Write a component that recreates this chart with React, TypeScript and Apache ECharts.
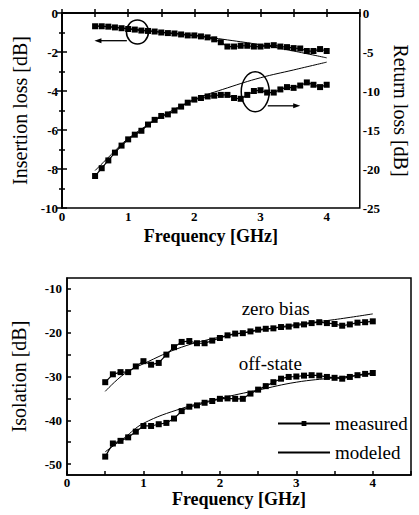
import React, { useEffect, useRef } from "react";
import * as echarts from "echarts";

// ---------- data ----------
const freq = [0.5, 0.6, 0.7, 0.8, 0.9, 1.0, 1.1, 1.2, 1.3, 1.4, 1.5, 1.6, 1.7, 1.8, 1.9, 2.0, 2.1, 2.2, 2.3, 2.4, 2.5, 2.6, 2.7, 2.8, 2.9, 3.0, 3.1, 3.2, 3.3, 3.4, 3.5, 3.6, 3.7, 3.8, 3.9, 4.0];

const insertionMeasured = [-0.68, -0.68, -0.7, -0.74, -0.78, -0.82, -0.85, -0.9, -0.92, -0.95, -1.0, -1.03, -1.05, -1.1, -1.15, -1.15, -1.2, -1.25, -1.35, -1.5, -1.72, -1.72, -1.68, -1.68, -1.72, -1.72, -1.68, -1.65, -1.72, -1.75, -1.8, -1.82, -1.95, -1.95, -1.85, -1.95];
const returnMeasured = [-20.9, -19.9, -18.9, -17.9, -17.0, -16.2, -15.6, -15.1, -14.3, -13.7, -13.2, -13.0, -12.5, -12.0, -11.5, -11.1, -10.9, -10.7, -10.6, -10.5, -10.5, -10.9, -11.0, -10.5, -10.0, -9.9, -10.2, -10.2, -9.8, -9.5, -9.6, -9.3, -8.9, -9.2, -9.5, -9.2];
const zeroBiasMeasured = [-31.3, -29.5, -29.0, -29.0, -27.7, -26.5, -27.3, -26.9, -25.0, -23.3, -22.1, -21.9, -22.4, -22.4, -21.8, -21.2, -20.6, -20.2, -20.1, -19.7, -19.3, -19.1, -19.0, -18.7, -18.6, -18.3, -18.1, -17.8, -17.6, -17.8, -18.0, -18.4, -18.1, -17.7, -17.6, -17.4];
const offStateMeasured = [-48.3, -45.3, -44.7, -43.9, -42.6, -41.3, -41.3, -40.9, -40.6, -39.6, -37.9, -36.9, -36.6, -36.0, -35.6, -35.1, -35.0, -35.1, -35.1, -33.9, -33.0, -32.2, -31.3, -30.5, -30.1, -30.0, -29.8, -29.7, -29.8, -30.1, -30.3, -30.5, -30.1, -29.7, -29.4, -29.2];

const freqModel = [0.5, 0.75, 1, 1.5, 2, 2.5, 3, 3.5, 4];
const insertionModel = [-0.65, -0.72, -0.8, -0.98, -1.15, -1.38, -1.63, -1.95, -2.3];
const returnModel = [-20.2, -18.1, -16.1, -13.3, -11.1, -9.6, -8.3, -7.3, -6.3];
const zeroBiasModel = [-33.4, -29.4, -27.1, -23.3, -21.0, -19.5, -18.1, -17.0, -15.7];
const offStateModel = [-47.2, -44.0, -40.7, -37.3, -35.0, -33.1, -31.3, -30.3, -29.4];

const xLabelValues = [0, 1, 2, 3, 4];
const xTickValues = [0, 0.5, 1, 1.5, 2, 2.5, 3, 3.5, 4, 4.5];
const isoLabelValues = [-50, -40, -30, -20, -10];
const isoTickValues = [-50, -45, -40, -35, -30, -25, -20, -15, -10];

// annotation anchors (data coordinates)
const circleIL = [1.14, -0.97];
const arrowIL = [[0.98, -1.42], [0.49, -1.42]];
const ellipseRL = [2.92, -10.1];
const arrowRL = [[3.11, -11.9], [3.6, -11.9]];
const zeroBiasLabel = [2.73, -14.5];
const offStateLabel = [2.66, -27.0];

const zip = (xs: number[], ys: number[]) => xs.map((x, i) => [x, ys[i]]);

const FONT = "Liberation Serif";
const tickLabel = { fontFamily: FONT, fontSize: 13, fontWeight: "bold" as const, color: "#000" };
const axisName = { fontFamily: FONT, fontSize: 20, color: "#000" };
const axisNameX = { fontFamily: FONT, fontSize: 18, fontWeight: "bold" as const, color: "#000" };
const lineStyleAxis = { color: "#000", width: 1.5 };

export default function App() {
  const ref = useRef<HTMLDivElement>(null);

  useEffect(() => {
    if (!ref.current) return;
    const chart = echarts.init(ref.current, undefined, { renderer: "svg" });

    const measuredStyle = {
      type: "line" as const,
      symbol: "rect",
      symbolSize: 6,
      itemStyle: { color: "#000" },
      lineStyle: { color: "#000", width: 1.2 },
      z: 3,
    };
    const modelStyle = {
      type: "line" as const,
      symbol: "none",
      smooth: 0.4,
      lineStyle: { color: "#000", width: 1 },
      itemStyle: { color: "#000" },
      z: 2,
    };

    const option: any = {
      animation: false,
      backgroundColor: "#fff",
      textStyle: { fontFamily: FONT },
      grid: [
        { left: 62, top: 13, width: 304, height: 195, show: true, borderColor: "#000", borderWidth: 1.5, backgroundColor: "transparent" },
        { left: 67, top: 278, width: 344, height: 197, show: true, borderColor: "#000", borderWidth: 1.5, backgroundColor: "transparent" },
      ],
      xAxis: [
        {
          type: "value", gridIndex: 0, min: 0, max: 4.5,
          name: "Frequency [GHz]", nameLocation: "middle", nameGap: 19, nameTextStyle: axisNameX,
          axisLine: { lineStyle: lineStyleAxis },
          axisTick: { inside: true, length: 4, lineStyle: lineStyleAxis, customValues: xTickValues },
          axisLabel: { ...tickLabel, margin: 2, customValues: xLabelValues },
          splitLine: { show: false },
        },
        {
          type: "value", gridIndex: 1, min: 0, max: 4.5,
          name: "Frequency [GHz]", nameLocation: "middle", nameGap: 15, nameTextStyle: axisNameX,
          axisLine: { lineStyle: lineStyleAxis },
          axisTick: { inside: true, length: 4, lineStyle: lineStyleAxis, customValues: xTickValues },
          axisLabel: { ...tickLabel, margin: 1, customValues: xLabelValues },
          splitLine: { show: false },
        },
        {
          type: "value", gridIndex: 0, min: 0, max: 4.5, position: "top",
          axisLine: { lineStyle: lineStyleAxis },
          axisTick: { inside: true, length: 4, lineStyle: lineStyleAxis, customValues: xTickValues },
          axisLabel: { show: false },
          splitLine: { show: false },
        },
      ],
      yAxis: [
        {
          type: "value", gridIndex: 0, min: -10, max: 0, interval: 2, position: "left",
          name: "Insertion loss [dB]", nameLocation: "middle", nameGap: 29, nameRotate: 90, nameTextStyle: axisName,
          axisLine: { show: true, lineStyle: lineStyleAxis },
          axisTick: { inside: true, length: 5, lineStyle: lineStyleAxis },
          minorTick: { show: true, splitNumber: 2, length: 3, lineStyle: lineStyleAxis },
          axisLabel: { ...tickLabel, margin: 4 },
          splitLine: { show: false },
        },
        {
          type: "value", gridIndex: 0, min: -25, max: 0, interval: 5, position: "right",
          name: "Return loss [dB]", nameLocation: "middle", nameGap: 24, nameRotate: -90, nameTextStyle: axisName,
          axisLine: { show: true, lineStyle: lineStyleAxis },
          axisTick: { inside: true, length: 5, lineStyle: lineStyleAxis },
          minorTick: { show: true, splitNumber: 2, length: 3, lineStyle: lineStyleAxis },
          axisLabel: { ...tickLabel, margin: 3 },
          splitLine: { show: false },
        },
        {
          type: "value", gridIndex: 1, min: -52.5, max: -7.5, position: "left",
          name: "Isolation [dB]", nameLocation: "middle", nameGap: 38, nameRotate: 90, nameTextStyle: axisName,
          axisLine: { show: true, lineStyle: lineStyleAxis },
          axisTick: { inside: true, length: 4, lineStyle: lineStyleAxis, customValues: isoTickValues },
          axisLabel: { ...tickLabel, margin: 5, customValues: isoLabelValues },
          splitLine: { show: false },
        },
      ],
      legend: {
        data: [
          { name: "measured" },
          { name: "modeled", itemStyle: { color: "transparent", borderWidth: 0 } },
        ],
        orient: "vertical",
        left: 272,
        top: 409,
        itemWidth: 52,
        itemHeight: 6,
        itemGap: 10,
        selectedMode: false,
        textStyle: { fontFamily: FONT, fontSize: 19, color: "#000" },
      },
      series: [
        { ...measuredStyle, name: "insertion measured", xAxisIndex: 0, yAxisIndex: 0, data: zip(freq, insertionMeasured) },
        { ...modelStyle, name: "insertion modeled", xAxisIndex: 0, yAxisIndex: 0, data: zip(freqModel, insertionModel) },
        { ...measuredStyle, name: "return measured", xAxisIndex: 0, yAxisIndex: 1, data: zip(freq, returnMeasured) },
        { ...modelStyle, name: "return modeled", xAxisIndex: 0, yAxisIndex: 1, data: zip(freqModel, returnModel) },
        { ...measuredStyle, name: "measured", xAxisIndex: 1, yAxisIndex: 2, data: zip(freq, zeroBiasMeasured) },
        { ...modelStyle, name: "modeled", xAxisIndex: 1, yAxisIndex: 2, data: zip(freqModel, zeroBiasModel) },
        { ...measuredStyle, name: "measured", xAxisIndex: 1, yAxisIndex: 2, data: zip(freq, offStateMeasured) },
        { ...modelStyle, name: "modeled", xAxisIndex: 1, yAxisIndex: 2, data: zip(freqModel, offStateModel) },
      ],
    };

    chart.setOption(option);

    const pTopL = (p: number[]) => chart.convertToPixel({ xAxisIndex: 0, yAxisIndex: 0 }, p) as number[];
    const pTopR = (p: number[]) => chart.convertToPixel({ xAxisIndex: 0, yAxisIndex: 1 }, p) as number[];
    const pBot = (p: number[]) => chart.convertToPixel({ xAxisIndex: 1, yAxisIndex: 2 }, p) as number[];

    const arrow = (a: number[], b: number[]) => {
      const dir = Math.sign(b[0] - a[0]);
      return [
        { type: "line", shape: { x1: a[0], y1: a[1], x2: b[0] - dir * 5, y2: b[1] }, style: { stroke: "#000", lineWidth: 1.3 } },
        {
          type: "polygon",
          shape: { points: [[b[0], b[1]], [b[0] - dir * 7, b[1] - 2.5], [b[0] - dir * 7, b[1] + 2.5]] },
          style: { fill: "#000" },
        },
      ];
    };

    const c1 = pTopL(circleIL);
    const e2 = pTopR(ellipseRL);
    const a1 = arrowIL.map(pTopL);
    const a2 = arrowRL.map(pTopR);
    const zb = pBot(zeroBiasLabel);
    const os = pBot(offStateLabel);

    chart.setOption({
      graphic: [
        { type: "ellipse", shape: { cx: c1[0], cy: c1[1], rx: 11, ry: 12 }, style: { fill: "none", stroke: "#000", lineWidth: 1.5 }, z: 10 },
        { type: "ellipse", shape: { cx: e2[0], cy: e2[1], rx: 14, ry: 20 }, style: { fill: "none", stroke: "#000", lineWidth: 1.5 }, z: 10 },
        ...arrow(a1[0], a1[1]),
        ...arrow(a2[0], a2[1]),
        { type: "text", x: zb[0], y: zb[1], style: { text: "zero bias", fontFamily: FONT, fontSize: 19, fill: "#000", align: "center", verticalAlign: "middle" } },
        { type: "text", x: os[0], y: os[1], style: { text: "off-state", fontFamily: FONT, fontSize: 19, fill: "#000", align: "center", verticalAlign: "middle" } },
      ],
    });

    return () => chart.dispose();
  }, []);

  return <div ref={ref} style={{ position: "absolute", left: 0, top: 0, width: 419, height: 515 }} />;
}
